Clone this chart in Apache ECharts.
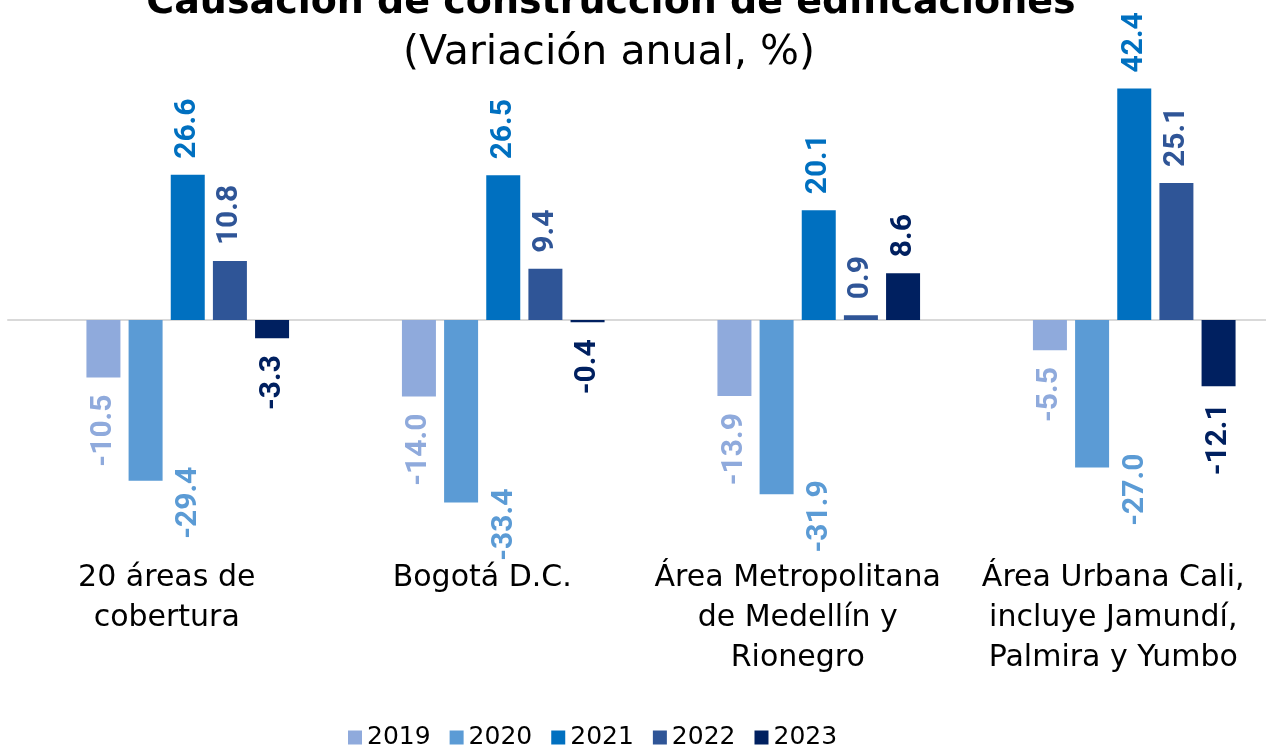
<!DOCTYPE html>
<html>
<head>
    <meta charset="utf-8">
    <title>Causación de construcción de edificaciones</title>
    <script src="https://cdn.jsdelivr.net/npm/echarts@6/dist/echarts.min.js"></script>
    <style>
        body { margin: 0; background: #fff; overflow: hidden; }
    </style>
</head>
<body>
    <!-- el area del grafico sale un poco por la derecha, como en el original -->
    <div id="main" style="width: 1292px;height:751px;"></div>

    <script>
        // categorias (eje x)
        var categorias = [
            '20 áreas de\ncobertura',
            'Bogotá D.C.',
            'Área Metropolitana\nde Medellín y\nRionegro',
            'Área Urbana Cali,\nincluye Jamundí,\nPalmira y Yumbo'
        ];
        var anios = ['2019', '2020', '2021', '2022', '2023'];
        var colores = ['#8FAADC', '#5B9BD5', '#0070C0', '#2F5597', '#002060'];

        // variacion anual por año
        var v2019 = [-10.5, -14.0, -13.9, -5.5];
        var v2020 = [-29.4, -33.4, -31.9, -27.0];
        var v2021 = [26.6, 26.5, 20.1, 42.4];
        var v2022 = [10.8, 9.4, 0.9, 25.1];
        var v2023 = [-3.3, -0.4, 8.6, -12.1];
        var valores = [v2019, v2020, v2021, v2022, v2023];

        var fuente = 'DejaVu Sans';
        var yMin = -43, yMax = 50;
        var myChart = echarts.init(document.getElementById('main'));

        // etiqueta girada, arriba si es positivo, abajo si es negativo
        // (la serie 2020 lleva la etiqueta corrida a la derecha de la barra)
        function datos(serie, color, corrida) {
            return serie.map(function (v) {
                var neg = v < 0;
                var lbl = {
                    show: true,
                    position: neg ? 'bottom' : 'top',
                    rotate: 90,
                    align: neg ? 'right' : 'left',
                    verticalAlign: 'middle',
                    distance: neg ? 17 : 16,
                    color: color,
                    fontFamily: 'Roboto',
                    fontWeight: 'bold',
                    fontSize: 30,
                    formatter: function (p) { return p.value.toFixed(1); }
                };
                if (corrida) {
                    // el offset va en el marco girado: x = hacia arriba, y = hacia la derecha
                    lbl.offset = [31, 43];
                }
                return { value: v, label: lbl };
            });
        }

        var series = anios.map(function (a, i) {
            return {
                name: a,
                type: 'bar',
                xAxisIndex: 0,
                yAxisIndex: 0,
                barWidth: 34,
                barGap: '24%',
                itemStyle: { color: colores[i] },
                data: datos(valores[i], colores[i], a === '2020')
            };
        });

        var option = {
            animation: false,
            title: [{
                text: 'Causación de construcción de edificaciones',
                left: 606,
                top: -21,
                textAlign: 'center',
                textStyle: { fontFamily: fuente, fontWeight: 'bold', fontSize: 38, color: '#000' }
            }, {
                text: '(Variación anual, %)',
                left: 604,
                top: 28,
                textAlign: 'center',
                textStyle: { fontFamily: fuente, fontWeight: 'normal', fontSize: 41, color: '#000' }
            }],
            legend: {
                bottom: -4,
                left: 343,
                itemWidth: 14,
                itemHeight: 14,
                itemGap: 19,
                icon: 'rect',
                textStyle: { fontFamily: fuente, fontSize: 25, color: '#000' },
                data: anios
            },
            grid: [
                { left: 30, right: 0, top: 47, bottom: 196 },
                // solo para la linea del cero, que arranca casi en el borde
                { left: 8, right: 26, top: 47, bottom: 196 }
            ],
            xAxis: [{
                type: 'category',
                gridIndex: 0,
                data: categorias,
                axisLine: { show: false, onZero: false },
                axisTick: { show: false },
                axisLabel: {
                    interval: 0,
                    margin: 3,
                    padding: [0, 42, 0, 0],
                    fontFamily: fuente,
                    fontSize: 30,
                    lineHeight: 40,
                    color: '#000',
                    align: 'center',
                    verticalAlign: 'top'
                }
            }, {
                type: 'category',
                gridIndex: 1,
                data: [''],
                axisLine: { show: true, onZero: true, lineStyle: { color: '#D9D9D9', width: 2 } },
                axisTick: { show: false },
                axisLabel: { show: false }
            }],
            yAxis: [{
                type: 'value',
                gridIndex: 0,
                min: yMin,
                max: yMax,
                show: false,
                splitLine: { show: false }
            }, {
                type: 'value',
                gridIndex: 1,
                min: yMin,
                max: yMax,
                axisLine: { show: false },
                axisTick: { show: false },
                axisLabel: { show: false },
                splitLine: { show: false }
            }],
            series: series
        };

        myChart.setOption(option);
    </script>
</body>
</html>
